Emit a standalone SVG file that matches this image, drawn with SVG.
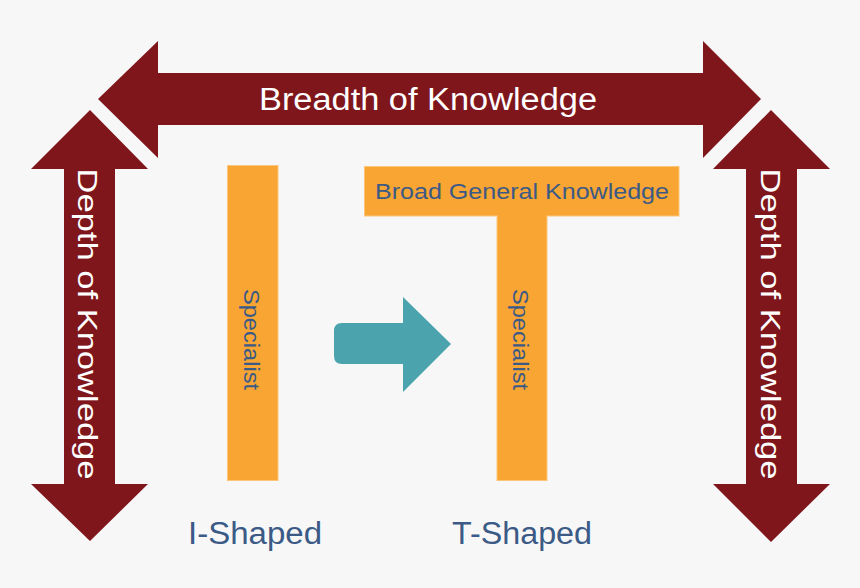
<svg xmlns="http://www.w3.org/2000/svg" width="860" height="588" viewBox="0 0 860 588">
  <style>
    .red { fill: #7f161c; }
    .orange { fill: #f9a534; stroke: #fbc57a; stroke-width: 1; }
    .teal { fill: #4ba4ad; }
    .wt { fill: #ffffff; font-family: "Liberation Sans", Arial, sans-serif; }
    .bt { fill: #3b5a86; font-family: "Liberation Sans", Arial, sans-serif; }
  </style>
  <rect x="0" y="0" width="860" height="588" fill="#f7f7f7"/>

  <g id="connectors">
    <g id="breadth-arrow">
      <polygon class="red" points="98,99 158,41 158,73 703,73 703,41 761,99 703,158 703,125 158,125 158,158"/>
      <text class="wt" x="428" y="110" font-size="31" text-anchor="middle" textLength="338" lengthAdjust="spacingAndGlyphs">Breadth of Knowledge</text>
    </g>
    <g id="depth-arrow-left">
      <polygon class="red" points="90,110 148,169 115,169 115,484 148,484 90,541 31,484 64,484 64,169 31,169"/>
      <text class="wt" transform="translate(78,324) rotate(90)" font-size="28" text-anchor="middle" textLength="311" lengthAdjust="spacingAndGlyphs">Depth of Knowledge</text>
    </g>
    <g id="depth-arrow-right">
      <polygon class="red" points="771,110 830,169 797,169 797,484 830,484 771,542 713,484 746,484 746,169 713,169"/>
      <text class="wt" transform="translate(761,324) rotate(90)" font-size="28" text-anchor="middle" textLength="311" lengthAdjust="spacingAndGlyphs">Depth of Knowledge</text>
    </g>
    <g id="transition-arrow">
      <path class="teal" d="M342,323 H403 V297 L451,344 L403,392 V364 H342 Q334,364 334,356 V331 Q334,323 342,323 Z"/>
    </g>
  </g>

  <g id="i-shaped">
    <rect class="orange" x="227.5" y="165.5" width="50.5" height="315"/>
    <text class="bt" transform="translate(244,339.5) rotate(90)" font-size="22" text-anchor="middle" textLength="101" lengthAdjust="spacingAndGlyphs">Specialist</text>
    <text class="bt" x="255" y="544" font-size="31" text-anchor="middle" textLength="134" lengthAdjust="spacingAndGlyphs">I-Shaped</text>
  </g>

  <g id="t-shaped">
    <rect class="orange" x="497" y="200" width="50" height="280.5"/>
    <rect class="orange" x="364.5" y="166.5" width="314.5" height="49.5"/>
    <rect x="498" y="210" width="48" height="10" fill="#f9a534"/>
    <text class="bt" x="522" y="199" font-size="22" text-anchor="middle" textLength="294" lengthAdjust="spacingAndGlyphs">Broad General Knowledge</text>
    <text class="bt" transform="translate(513,339.5) rotate(90)" font-size="22" text-anchor="middle" textLength="101" lengthAdjust="spacingAndGlyphs">Specialist</text>
    <text class="bt" x="522" y="544" font-size="31" text-anchor="middle" textLength="140" lengthAdjust="spacingAndGlyphs">T-Shaped</text>
  </g>
</svg>
